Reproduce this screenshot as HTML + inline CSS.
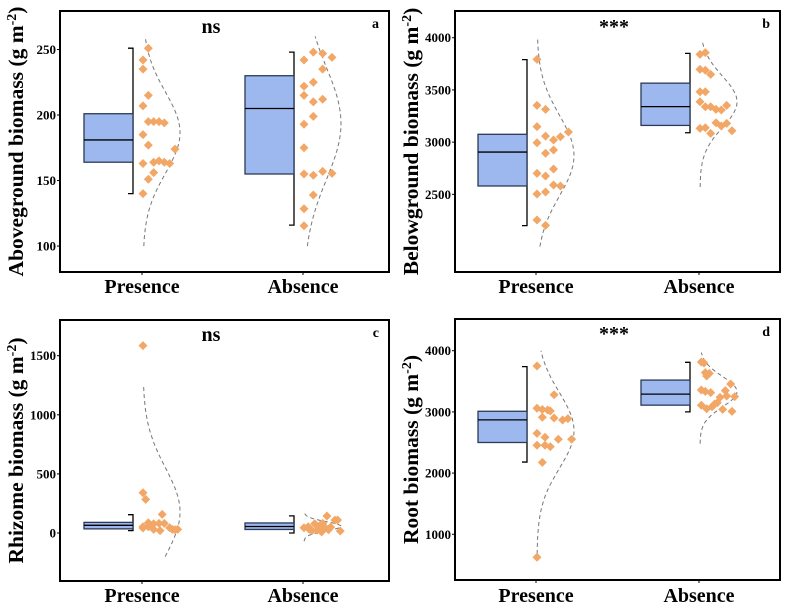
<!DOCTYPE html>
<html><head><meta charset="utf-8"><style>
html,body{margin:0;padding:0;background:#fff;}
svg{display:block;font-family:"Liberation Serif",serif;font-weight:bold;}
</style></head><body>
<svg id="chart" width="785" height="606" viewBox="0 0 785 606"></svg>
<script>
// ---- data ----
const categories = ["Presence","Absence"];
const panelLetters = ["a","b","c","d"];
const panelTitles = ["Aboveground biomass","Belowground biomass","Rhizome biomass","Root biomass"];
const sigLabels = ["ns","***","ns","***"];
const ticksA = [100,150,200,250];
const ticksB = [2500,3000,3500,4000];
const ticksC = [0,500,1000,1500];
const ticksD = [1000,2000,3000,4000];
// box stats: [whiskerLow, Q1, median, Q3, whiskerHigh]
const boxA = [[140,164,181,201,251],[116,155,205,230,248]];
const boxB = [[2200,2580,2905,3075,3790],[3090,3160,3340,3565,3850]];
const boxC = [[20,35,65,90,155],[0,30,55,85,145]];
const boxD = [[2180,2500,2870,3010,3740],[3000,3110,3290,3520,3810]];
// points: [jitter column, value]
const ptsAPres = [[0,242],[0,235],[1,251],[1,215],[0,207],[1,195],[2,195],[3,195],[4,194],[0,185],[1,177],[6,174],[0,163],[2,164],[3,165],[4,164],[5,163],[2,156],[1,151],[0,140]];
const ptsAAbs = [[0,242],[1.75,248],[3.5,247],[5.25,244],[3.5,235],[1.75,225],[0,222],[0,215],[1.75,210],[3.5,212],[1.75,199],[0,193],[0,175],[0,155],[1.75,154],[3.5,157],[5.25,155.5],[1.75,139],[0,128.5],[0,115.5]];
const ptsBPres = [[0,3793],[0,3352],[1.6,3314],[0,3148],[1.6,3058],[4.4,3052],[5.9,3097],[3.1,3020],[0,2994],[1.6,2893],[3.1,2924],[3.1,2742],[0,2701],[1.6,2675],[3.1,2589],[4.4,2580],[1.6,2522],[0,2503],[0,2254],[1.6,2203]];
const ptsBAbs = [[0,3841],[1,3857],[0,3697],[1,3688],[2,3649],[0,3483],[1,3483],[0,3387],[1,3339],[2,3339],[3,3314],[4,3308],[5,3352],[1,3138],[0,3132],[2,3084],[3,3186],[4,3154],[5,3180],[6,3109]];
const ptsCPres = [[0,1585],[0,341],[0.5,285],[3.6,158],[0,53],[1,87],[2,31],[3,82],[4,82],[5,45],[6,28],[6.5,31],[1,53],[3.2,20],[2,78],[0,42],[5.5,31]];
const ptsCAbs = [[4.3,144],[6.3,110],[5.8,109],[0,45],[1,31],[2,78],[3,65],[4,45],[5,50],[6.8,17],[1.5,20],[2.5,24],[3.3,10],[4.6,28],[0.8,53],[3.5,82]];
const ptsDPres = [[0,3750],[3.2,3281],[0,3059],[1,3040],[2,3031],[2.5,3015],[1,2912],[3.2,2900],[4.8,2868],[5.8,2890],[0,2650],[1.5,2585],[4,2552],[6.5,2552],[0,2454],[1.5,2454],[2.5,2432],[1,2176],[0,624]];
const ptsDAbs = [[0.25,3815],[0.75,3800],[1,3641],[1.75,3630],[1.25,3587],[0.25,3358],[1,3336],[2,3314],[5.75,3456],[4.75,3347],[5,3259],[3.75,3238],[6.5,3249],[0.25,3108],[1.25,3052],[2.25,3085],[2.75,3129],[3.25,3150],[4.25,3042],[6,3009]];
// density curve extents [low, high] per category
const curveA = [[100,260],[100,260]];
const curveB = [[2000,4000],[2570,3960]];
const curveC = [[-200,1250],[-70,190]];
const curveD = [[680,4000],[2480,3970]];

// ---- layout ----
const NS="http://www.w3.org/2000/svg";
const svg=document.getElementById('chart');
function mk(tag,attrs,parent){const e=document.createElementNS(NS,tag);for(const k in attrs)e.setAttribute(k,attrs[k]);(parent||svg).appendChild(e);return e;}
const panels=[
 {x0:60,x1:389,y0:11,y1:272,dom:[80.2,279.4],ticks:ticksA,box:boxA,pts:[ptsAPres,ptsAAbs],curve:curveA,cats:[142,303],xlabY:293,sigY:33,sigX:211},
 {x0:455,x1:780,y0:11,y1:272,dom:[1756,4256],ticks:ticksB,box:boxB,pts:[ptsBPres,ptsBAbs],curve:curveB,cats:[536,699],xlabY:293,sigY:33,sigX:614},
 {x0:60,x1:389,y0:320,y1:581,dom:[-406,1802],ticks:ticksC,box:boxC,pts:[ptsCPres,ptsCAbs],curve:curveC,cats:[142,303],xlabY:602,sigY:341,sigX:211},
 {x0:455,x1:780,y0:319,y1:580,dom:[253,4518],ticks:ticksD,box:boxD,pts:[ptsDPres,ptsDAbs],curve:curveD,cats:[536,699],xlabY:602,sigY:340,sigX:614}
];
panels.forEach((p,i)=>{
  const g=mk('g',{});
  
  
  const y=v=>p.y1-(v-p.dom[0])/(p.dom[1]-p.dom[0])*(p.y1-p.y0);
  p.ticks.forEach(t=>{
    const l=mk('line',{x1:p.x0-3,x2:p.x0,y1:y(t),y2:y(t),stroke:'#000','stroke-width':1},g);
    
    
    const tx=mk('text',{x:p.x0-4,y:y(t)+4.5,'text-anchor':'end','font-size':13},g);
    tx.textContent=t;
    
    
  });
  const yt=mk('text',{transform:`translate(${p.x0-37},${(p.y0+p.y1)/2}) rotate(-90)`,'text-anchor':'middle','font-size':21.5},g);
  yt.innerHTML=panelTitles[i]+' (g m<tspan baseline-shift="super" font-size="14">-2</tspan>)';
  
  
  p.cats.forEach((cx,c)=>{
    const tk=mk('line',{x1:cx,x2:cx,y1:p.y1,y2:p.y1+3,stroke:'#000'},g);
    
    
    const xl=mk('text',{x:cx,y:p.xlabY,'text-anchor':'middle','font-size':20},g);
    xl.textContent=categories[c];
    
    
    const b=p.box[c];
    const bx1=cx-9, bx0=cx-58;
    const wl=mk('path',{d:`M${bx1-5},${y(b[0])}H${bx1}V${y(b[4])}H${bx1-5}`,fill:'none',stroke:'#000','stroke-width':1.3},g);
    
    
    const r=mk('rect',{x:bx0,y:y(b[3]),width:bx1-bx0,height:y(b[1])-y(b[3]),fill:'#9db8ef',stroke:'#2b3a55','stroke-width':1.3},g);
    
    
    const md=mk('line',{x1:bx0,x2:bx1,y1:y(b[2]),y2:y(b[2]),stroke:'#000','stroke-width':1.3},g);
    
    
    const pts=p.pts[c];
    const vals=pts.map(d=>d[1]);
    const m=vals.reduce((a,b)=>a+b,0)/vals.length;
    const sd=Math.sqrt(vals.reduce((a,b)=>a+(b-m)*(b-m),0)/(vals.length-1));
    const [lo,hi]=p.curve[c];
    let d='';
    for(let k=0;k<=60;k++){const v=lo+(hi-lo)*k/60;const w=37*Math.exp(-((v-m)**2)/(2*sd*sd));d+=(k?'L':'M')+(cx+1+w).toFixed(1)+','+y(v).toFixed(1);}
    const cp=mk('path',{d,fill:'none',stroke:'#777','stroke-width':1,'stroke-dasharray':'4,3'},g);
    
    
    pts.forEach(pt=>{
      const px=cx+1+pt[0]*5.33, py=y(pt[1]);
      const dm=mk('path',{d:`M${px},${py-4.5}L${px+4.5},${py}L${px},${py+4.5}L${px-4.5},${py}Z`,fill:'#f2a766'},g);
      
      
    });
  });
  const fr=mk('rect',{x:p.x0,y:p.y0,width:p.x1-p.x0,height:p.y1-p.y0,fill:'none',stroke:'#000','stroke-width':2},g);
  
  
  const sg=mk('text',{x:p.sigX,y:p.sigY,'text-anchor':'middle','font-size':20},g);
  sg.textContent=sigLabels[i];
  
  
  const pl=mk('text',{x:p.x1-10,y:p.y0+17,'text-anchor':'end','font-size':14},g);
  pl.textContent=panelLetters[i];
  
  
});
</script>
</body></html>
